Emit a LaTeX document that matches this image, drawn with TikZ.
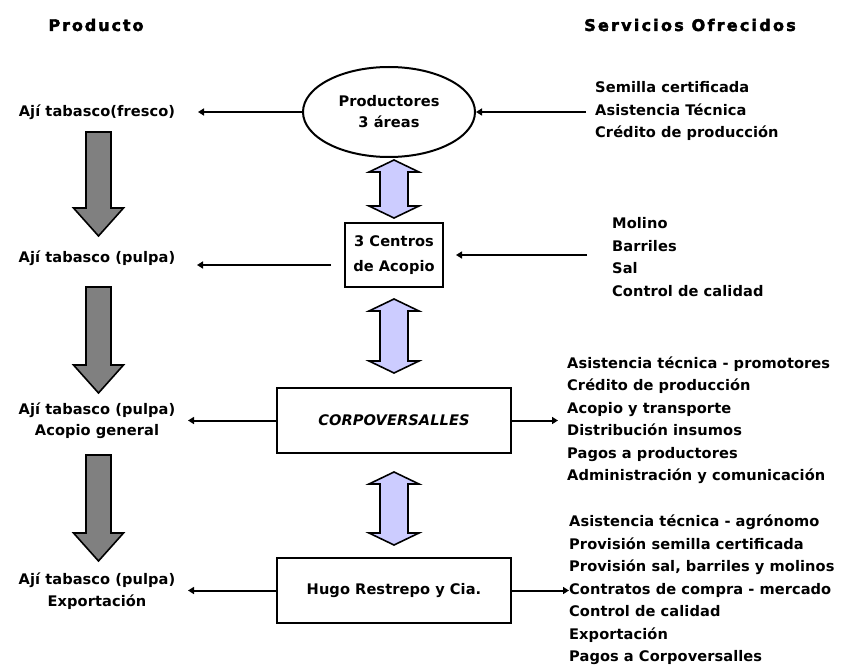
\documentclass[tikz,border=0pt]{standalone}
\usepackage{fontspec}
\setmainfont{DejaVu Sans Bold}[LetterSpace=0.5, ItalicFont=DejaVu Sans Bold Oblique]
\newfontfamily\hdrfont{DejaVu Sans Bold}[LetterSpace=12, FakeBold=2.5]
\usetikzlibrary{arrows.meta,shapes.geometric,calc}
\definecolor{grayfill}{HTML}{808080}
\definecolor{lavfill}{HTML}{CCCCFF}
\newcommand\dblarr[3]{%
  \draw[lavarr] (#1,#2) -- (#1+25,#2+12) -- (#1+14,#2+12) -- (#1+14,#3-12) -- (#1+25,#3-12) -- (#1,#3) -- (#1-25,#3-12) -- (#1-14,#3-12) -- (#1-14,#2+12) -- (#1-25,#2+12) -- cycle;}
\newcommand\downarr[4]{%
  \draw[grayarr] (#1-12.5,#2) -- (#1+12.5,#2) -- (#1+12.5,#3) -- (#1+25,#3) -- (#1,#4) -- (#1-25,#3) -- (#1-12.5,#3) -- cycle;}
\begin{document}
\begin{tikzpicture}[x=1pt,y=-1pt,
  txt/.style={font=\fontsize{14.6}{22.5}\selectfont, inner sep=0pt},
  hdr/.style={font=\fontsize{16}{20}\selectfont\hdrfont, inner sep=0pt},
  box/.style={draw, line width=2pt, align=center, inner sep=0pt, font=\fontsize{14.6}{25}\selectfont},
  arr/.style={line width=2pt, -{Triangle[length=6pt,width=7pt]}},
  grayarr/.style={draw, line width=1.6pt, fill=grayfill, line join=miter},
  lavarr/.style={draw, line width=1.6pt, fill=lavfill, line join=miter}]
\useasboundingbox (0,0) rectangle (846,666);
\fill[white] (0,0) rectangle (846,666);

% headers
\node[hdr] (hprod) at (96,25) {Producto};
\node[hdr, font=\fontsize{16}{20}\selectfont\hdrfont\addfontfeature{LetterSpace=14}] (hserv) at (690,25) {Servicios Ofrecidos};

% central column
\node[ellipse, draw, line width=2pt, minimum width=172, minimum height=90, inner sep=0pt,
      align=center, font=\fontsize{14.6}{21}\selectfont] (prod) at (389,112) {Productores\\3 áreas};
\node[box, minimum width=98, minimum height=64] (centros) at (394,255) {3 Centros\\de Acopio};
\node[box, minimum width=234, minimum height=65] (corpo) at (394,420.5) {\itshape CORPOVERSALLES};
\node[box, minimum width=234, minimum height=65] (hugo) at (394,590.5) {Hugo Restrepo y Cia.};

\dblarr{394}{160}{218}
\dblarr{394}{299}{373}
\dblarr{394}{472}{545}

% product column
\node[txt, align=center] (p1) at (97,112) {Ají tabasco(fresco)};
\node[txt, align=center] (p2) at (97,258) {Ají tabasco (pulpa)};
\node[txt, align=center, font=\fontsize{14.6}{21.5}\selectfont] (p3) at (97,420.5) {Ají tabasco (pulpa)\\Acopio general};
\node[txt, align=center, font=\fontsize{14.6}{21.5}\selectfont] (p4) at (97,591) {Ají tabasco (pulpa)\\Exportación};

\downarr{98.5}{132}{208}{236}
\downarr{98.5}{287}{365}{393}
\downarr{98.5}{455}{533}{561}

% services
\node[txt, anchor=west, align=left] (s1) at (595,111) {Semilla certificada\\Asistencia Técnica\\Crédito de producción};
\node[txt, anchor=west, align=left] (s2) at (612,257) {Molino\\Barriles\\Sal\\Control de calidad};
\node[txt, anchor=west, align=left] (s3) at (567,420) {Asistencia técnica - promotores\\Crédito de producción\\Acopio y transporte\\Distribución insumos\\Pagos a productores\\Administración y comunicación};
\node[txt, anchor=west, align=left] (s4) at (569,590) {Asistencia técnica - agrónomo\\Provisión semilla certificada\\Provisión sal, barriles y molinos\\Contratos de compra - mercado\\Control de calidad\\Exportación\\Pagos a Corpoversalles};

% arrow tip coordinates on the product side
\coordinate (t1) at (198,112);
\coordinate (t2) at (197,265);
\coordinate (t3) at (188,420.5);
\coordinate (t4) at (188,590.5);

% connectors
\draw[arr] (prod.west) -- (t1);
\draw[arr, shorten <=13pt] (centros.west |- t2) -- (t2);
\draw[arr] (corpo.west) -- (t3);
\draw[arr] (hugo.west) -- (t4);

\draw[arr] ($(prod.east -| s1.west)+(-9,0)$) -- (prod.east);
\draw[arr, shorten >=12pt] ($(centros.east -| s2.west)+(-25,0)$) -- (centros.east);
\draw[arr, shorten >=9pt] (corpo.east) -- (corpo.east -| s3.west);
\draw[arr] (hugo.east) -- (hugo.east -| s4.west);
\end{tikzpicture}
\end{document}
